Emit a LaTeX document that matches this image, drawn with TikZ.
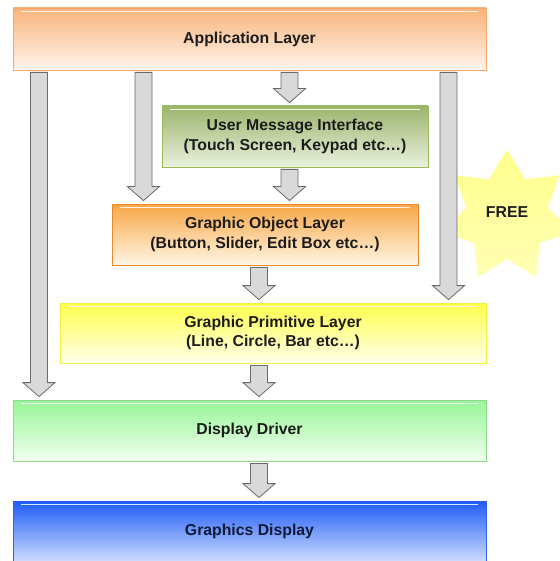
\documentclass[tikz,border=0pt]{standalone}
\usepackage{fontspec}
\setmainfont{Liberation Sans}
\usetikzlibrary{calc,shapes.geometric}

% layer box colours
\definecolor{appTop}{HTML}{F8B47A}\definecolor{appBot}{HTML}{FFF4EC}\definecolor{appLine}{HTML}{F6A66A}
\definecolor{umiTop}{HTML}{9CB46C}\definecolor{umiBot}{HTML}{EAF1DE}\definecolor{umiLine}{HTML}{9BBB59}
\definecolor{golTop}{HTML}{F9A646}\definecolor{golBot}{HTML}{FFF6E4}\definecolor{golLine}{HTML}{E8892C}
\definecolor{gplTop}{HTML}{FFFF4A}\definecolor{gplBot}{HTML}{FFFFEC}\definecolor{gplLine}{HTML}{F2F246}
\definecolor{ddTop}{HTML}{96F596}\definecolor{ddBot}{HTML}{F2FFF0}\definecolor{ddLine}{HTML}{8FD88F}
\definecolor{gdTop}{HTML}{1E5CF4}\definecolor{gdBot}{HTML}{CCDBFF}\definecolor{gdLine}{HTML}{2F5EF0}
\definecolor{arrFill}{HTML}{D9D9D9}\definecolor{arrLine}{HTML}{6A6A6A}
\definecolor{txt}{HTML}{1C1C1C}\definecolor{txtBlue}{HTML}{0F1A3A}
\definecolor{starTop}{HTML}{FFFF8C}\definecolor{starBot}{HTML}{FFFFB4}

\tikzset{
  boxfont/.style={font=\bfseries\fontsize{15.8}{19.5}\selectfont},
  layer/.style={draw=#1Line, line width=0.8pt, top color=#1Top, bottom color=#1Bot,
    boxfont, text=txt, align=center, inner sep=0pt, anchor=center},
  barrow/.style={fill=arrFill, draw=arrLine, line width=0.8pt, line join=miter},
}

% block arrow pointing down from #1 to #2 (x taken from #1)
\newcommand\blockarrow[2]{%
  \draw[barrow] let \p1=(#1), \p2=(#2) in
    (\x1-8.5pt,\y1-2pt) -- (\x1-8.5pt,\y2+17pt) -- (\x1-16pt,\y2+17pt) --
    (\x1,\y2+3pt) -- (\x1+16pt,\y2+17pt) -- (\x1+8.5pt,\y2+17pt) --
    (\x1+8.5pt,\y1-2pt) -- cycle;}

% glossy line along the top edge of a box
\newcommand\gloss[1]{%
  \draw[white, opacity=0.85, line width=1.4pt]
    ([xshift=8pt,yshift=-4pt]#1.north west) -- ([xshift=-8pt,yshift=-4pt]#1.north east);}

\begin{document}
\begin{tikzpicture}[x=1pt,y=-1pt]
  \useasboundingbox (0,0) rectangle (559,561);

  % layers
  \node[layer=app, minimum width=473pt, minimum height=62pt] (app) at (249.5,39) {Application Layer};
  \node[layer=umi, minimum width=266pt, minimum height=61pt] (umi) at (295,136.5)
    {User Message Interface\\(Touch Screen, Keypad etc\dots)};
  \node[layer=gol, minimum width=306pt, minimum height=61pt] (gol) at (265,234.5)
    {Graphic Object Layer\\(Button, Slider, Edit Box etc\dots)};
  \node[layer=gpl, minimum width=426pt, minimum height=60pt] (gpl) at (273,333)
    {Graphic Primitive Layer\\(Line, Circle, Bar etc\dots)};
  \node[layer=dd, minimum width=473pt, minimum height=61pt] (dd) at (249.5,430.5) {Display Driver};
  \node[layer=gd, minimum width=473pt, minimum height=60pt, text=txtBlue] (gd) at (249.5,531) {Graphics Display};
  \foreach \b in {app,umi,gol,gpl,dd,gd} {\gloss{\b}}

  % star badge
  \node[star, star points=7, star point ratio=1.6, minimum size=134pt, inner sep=0pt,
        top color=starTop, bottom color=starBot, draw=none] (free) at (507,217) {};
  \node[boxfont, text=txt] (freetxt) at (507,212) {FREE};

  % anchors for the arrows
  \coordinate (a1) at (app.south -| 39,0);
  \coordinate (a2) at (app.south -| 143.5,0);
  \coordinate (a3) at (app.south -| 289.5,0);
  \coordinate (a4) at (app.south -| 448.5,0);

  \blockarrow{a1}{dd.north}
  \blockarrow{a2}{gol.north}
  \blockarrow{a3}{umi.north}
  \blockarrow{a4}{gpl.north}
  \blockarrow{umi.south -| a3}{gol.north}
  \coordinate (m) at (259,0);
  \blockarrow{gol.south -| m}{gpl.north}
  \blockarrow{gpl.south -| m}{dd.north}
  \blockarrow{dd.south -| m}{gd.north}
\end{tikzpicture}
\end{document}
